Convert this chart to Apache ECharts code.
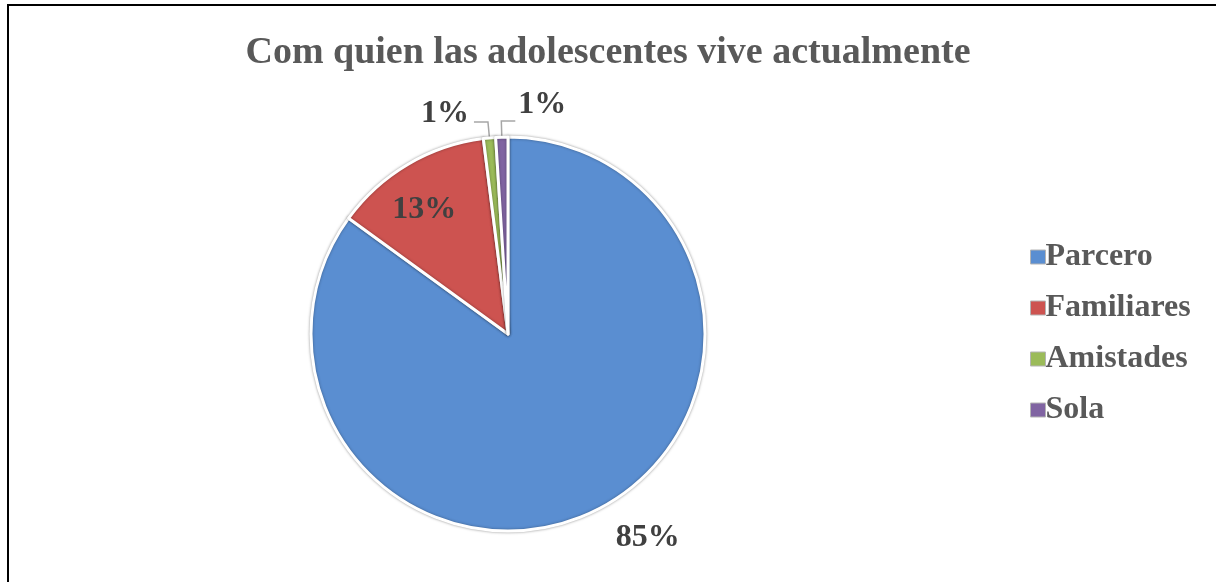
<!DOCTYPE html>
<html>
<head>
<meta charset="utf-8">
<script src="https://cdn.jsdelivr.net/npm/echarts@6/dist/echarts.min.js"></script>
<style>
  html, body { margin: 0; padding: 0; background: #fff; overflow: hidden; width: 1216px; height: 582px; }
  #chart { position: absolute; left: 0; top: 0; width: 1216px; height: 582px; }
  .rule { position: absolute; background: #000; pointer-events: none; }
  #ruleTop { left: 7px; top: 4px; width: 1209px; height: 2px; }
  #ruleLeft { left: 7px; top: 4px; width: 2px; height: 578px; }
</style>
</head>
<body>
<div id="chart"></div>
<div class="rule" id="ruleTop"></div>
<div class="rule" id="ruleLeft"></div>
<script>
// Who the adolescents currently live with (percent of respondents)
const titleText = 'Com quien las adolescentes vive actualmente';
const categories = ['Parcero', 'Familiares', 'Amistades', 'Sola'];
const shares = [85, 13, 1, 1];
const sliceColors = ['#5A8ED1', '#CD5350', '#9BBB59', '#8064A2'];

const serif = '"Liberation Serif", "Times New Roman", serif';

const chart = echarts.init(document.getElementById('chart'), null, { renderer: 'canvas' });

const pieData = categories.map(function (name, i) {
  const item = {
    name: name,
    value: shares[i],
    itemStyle: { color: sliceColors[i] }
  };
  if (i === 0) {
    item.labelLine = { show: false };
  } else if (i === 1) {
    item.label = { position: 'inside' };
    item.labelLine = { show: false };
  }
  return item;
});

chart.setOption({
  animation: false,
  backgroundColor: '#ffffff',
  title: {
    text: titleText,
    left: 'center',
    top: 29,
    textStyle: { fontFamily: serif, fontWeight: 'bold', fontSize: 38, color: '#595959' }
  },
  legend: {
    orient: 'vertical',
    left: 1025,
    top: 236,
    itemWidth: 15,
    itemHeight: 14,
    itemGap: 19,
    icon: 'rect',
    data: categories,
    itemStyle: { borderColor: '#b4b4b4', borderWidth: 1, shadowBlur: 0 },
    textStyle: { fontFamily: serif, fontWeight: 'bold', fontSize: 32, lineHeight: 32, color: '#595959', padding: [0, 0, 0, -5] }
  },
  series: [{
    type: 'pie',
    center: [508, 334],
    radius: 197,
    startAngle: 90,
    clockwise: true,
    avoidLabelOverlap: false,
    data: pieData,
    itemStyle: {
      borderColor: '#ffffff',
      borderWidth: 3,
      shadowColor: 'rgba(0,0,0,0.35)',
      shadowBlur: 3
    },
    label: {
      show: true,
      position: 'outside',
      formatter: '{c}%',
      fontFamily: serif,
      fontWeight: 'bold',
      fontSize: 32,
      color: '#404040',
      distanceToLabelLine: 5
    },
    labelLine: {
      show: true,
      length: 16,
      length2: 14,
      lineStyle: { color: '#a6a6a6', width: 1.5 }
    },
    labelLayout: function (p) {
      if (p.dataIndex === 0) {
        return { dx: -8, dy: 14 };
      }
      if (p.dataIndex === 1) {
        return { dx: -32, dy: -37 };
      }
      if (p.dataIndex === 2) {
        return { dy: -8 };
      }
      if (p.dataIndex === 3 && p.labelLinePoints) {
        // flip the short horizontal leg of the leader to the right-hand side
        const pts = p.labelLinePoints;
        const bend = pts[1];
        const end = [bend[0] + Math.abs(pts[2][0] - bend[0]), pts[2][1]];
        return {
          x: end[0] + 3,
          y: end[1] - 16,
          align: 'left',
          verticalAlign: 'middle',
          labelLinePoints: [pts[0], bend, end]
        };
      }
    }
  }]
});
</script>
</body>
</html>
